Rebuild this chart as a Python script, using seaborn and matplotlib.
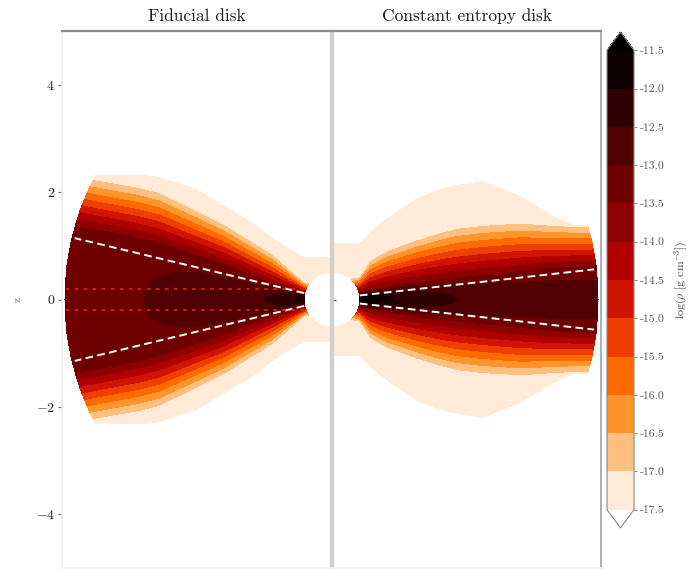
import numpy as np
import pandas as pd
import matplotlib
matplotlib.use("Agg")
import matplotlib.pyplot as plt
import seaborn as sns

# ---------------- data ----------------
panel_titles = ["Fiducial disk", "Constant entropy disk"]
cbar_levels = [-17.5, -17.0, -16.5, -16.0, -15.5, -15.0, -14.5,
               -14.0, -13.5, -13.0, -12.5, -12.0, -11.5]
ytick_values = [-4, -2, 0, 2, 4]
cbar_label = r"log($\rho$ [g cm$^{-3}$])"
inner_radius = 0.5
outer_radius = 4.95

# Fiducial disk: cylindrical-radius knots, midplane log density,
# heights of the -13.5 and -17.0 contours and of the -17.5 floor edge
fid_R    = [0.0, 0.5, 0.8, 1.1, 1.5, 2.0, 2.5, 3.2, 3.6, 4.45, 5.0]
fid_mid  = [-11.8, -11.9, -12.1, -12.45, -12.6, -12.7, -12.7, -12.9, -13.05, -13.2, -13.25]
fid_z135 = [0.05, 0.12, 0.2, 0.3, 0.45, 0.66, 0.82, 1.05, 1.15, 1.32, 1.38]
fid_z17  = [0.2, 0.3, 0.56, 0.82, 1.07, 1.38, 1.63, 1.97, 2.07, 2.22, 2.4]
fid_zh   = [0.78, 0.78, 0.95, 1.15, 1.45, 1.75, 2.05, 2.28, 2.32, 2.32, 2.45]
fid_line_slope = 0.24        # white dashed cone
fid_red_z = 0.2              # red dotted midplane markers

# Constant entropy disk
ce_R    = [0.0, 0.5, 0.7, 1.0, 1.3, 1.6, 2.0, 2.3, 2.8, 3.5, 4.1, 4.5, 5.0]
ce_mid  = [-11.6, -11.65, -11.75, -11.9, -12.1, -12.25, -12.4, -12.5, -12.6, -12.7, -12.72, -12.75, -12.75]
ce_z135 = [0.08, 0.13, 0.18, 0.23, 0.28, 0.32, 0.37, 0.4, 0.45, 0.52, 0.58, 0.6, 0.62]
ce_z17  = [0.3, 0.4, 0.7, 0.88, 0.99, 1.1, 1.22, 1.3, 1.36, 1.4, 1.36, 1.34, 1.33]
ce_zh   = [1.05, 1.05, 1.25, 1.5, 1.7, 1.9, 2.05, 2.12, 2.2, 1.92, 1.55, 1.38, 1.38]
ce_line_offset = 0.02
ce_line_slope = 0.111


def density_field(Rk, mid, z135, z17, zh):
    R = np.linspace(0, 5, 601)
    Z = np.linspace(-5, 5, 1201)
    RR, ZZ = np.meshgrid(R, Z)
    m = np.interp(RR, Rk, mid)
    a = np.interp(RR, Rk, z135)
    b = np.interp(RR, Rk, z17)
    h = np.interp(RR, Rk, zh)
    za = np.abs(ZZ)
    core = m - (m + 13.5) * (za / a) ** 2
    surf = -13.5 - 3.5 * (za - a) / (b - a)
    floor = -17.0 - 0.5 * (za - b) / (h - b)
    F = np.where(za < a, core, np.where(za < b, surf, np.where(za < h, floor, -18.5)))
    rs = np.hypot(RR, ZZ)
    F = np.where((rs < inner_radius) | (rs > outer_radius), np.nan, F)
    return RR, ZZ, F


# ---------------- figure ----------------
sns.set_theme(style="white")
plt.rcParams["font.family"] = ["cmr10", "DejaVu Serif"]
plt.rcParams["mathtext.fontset"] = "cm"
plt.rcParams["axes.formatter.use_mathtext"] = True

W, H = 697, 569
fig = plt.figure(figsize=(W / 100, H / 100), dpi=100)
ax1 = fig.add_axes([62 / W, 1 - 568 / H, 269 / W, 537 / H])
ax2 = fig.add_axes([333 / W, 1 - 568 / H, 268 / W, 537 / H])
cax = fig.add_axes([607 / W, 1 - 528 / H, 27 / W, 496 / H])

cmap = plt.get_cmap("gist_heat_r")

RR, ZZ, F_fid = density_field(fid_R, fid_mid, fid_z135, fid_z17, fid_zh)
cs = ax1.contourf(-RR, ZZ, F_fid, levels=cbar_levels, cmap=cmap, extend="both")
RR, ZZ, F_ce = density_field(ce_R, ce_mid, ce_z135, ce_z17, ce_zh)
ax2.contourf(RR, ZZ, F_ce, levels=cbar_levels, cmap=cmap, extend="both")

# cone lines
r_end_fid = outer_radius / np.sqrt(1 + fid_line_slope ** 2) - 0.05
rl = np.array([inner_radius, r_end_fid])
for sgn in (1, -1):
    df = pd.DataFrame({"x": -rl, "z": sgn * fid_line_slope * rl})
    sns.lineplot(data=df, x="x", y="z", ax=ax1, color="white", lw=1.4,
                 linestyle=(0, (4, 2.2)), sort=False, estimator=None)
    dfr = pd.DataFrame({"x": [-inner_radius, -outer_radius + 0.03],
                        "z": [sgn * fid_red_z, sgn * fid_red_z]})
    sns.lineplot(data=dfr, x="x", y="z", ax=ax1, color="#e8281a", lw=1.3,
                 linestyle=(0, (2, 3)), sort=False, estimator=None, alpha=0.85)

r_end_ce = outer_radius / np.sqrt(1 + ce_line_slope ** 2) - 0.05
rl = np.array([inner_radius, r_end_ce])
for sgn in (1, -1):
    df = pd.DataFrame({"x": rl, "z": sgn * (ce_line_offset + ce_line_slope * rl)})
    sns.lineplot(data=df, x="x", y="z", ax=ax2, color="white", lw=1.4,
                 linestyle=(0, (4, 2.2)), sort=False, estimator=None)

for ax, title in zip((ax1, ax2), panel_titles):
    ax.set_ylim(-5, 5)
    ax.set_xticks([])
    ax.set_xlabel("")
    ax.set_ylabel("")
    ax.set_title(title, fontsize=12.5, color="#1a1a1a", pad=7)
    ax.set_yticks(ytick_values)
    ax.set_facecolor("white")
ax1.set_xlim(-5, 0)
ax2.set_xlim(0, 5)

ax1.tick_params(axis="y", left=True, direction="out", length=3, width=0.8,
                color="#666666", labelsize=10, labelcolor="#222222", pad=2)
ax1.set_yticklabels([f"${v}$" for v in ytick_values])
ax2.tick_params(axis="y", left=True, direction="in", length=2, width=1.0,
                color="#666666", labelleft=False)
ax1.set_ylabel("z", fontsize=8, color="#777777", labelpad=9)

# spines
ax1.spines["left"].set_color("#eeeeee")
ax1.spines["bottom"].set_color("#f2f2f2")
ax1.spines["top"].set_color("#8c8c8c")
ax1.spines["top"].set_linewidth(1.6)
ax1.spines["right"].set_color("#cfcfcf")
ax1.spines["right"].set_linewidth(1.6)
ax2.spines["left"].set_color("#cfcfcf")
ax2.spines["left"].set_linewidth(1.6)
ax2.spines["top"].set_color("#8c8c8c")
ax2.spines["top"].set_linewidth(1.6)
ax2.spines["right"].set_color("#a8a8a8")
ax2.spines["right"].set_linewidth(1.3)
ax2.spines["bottom"].set_color("#f2f2f2")

cb = fig.colorbar(cs, cax=cax, extend="both", extendfrac=0.04, ticks=cbar_levels)
cb.ax.set_yticklabels([f"{v:.1f}" for v in cbar_levels])
cb.ax.tick_params(labelsize=8.5, labelcolor="#555555", length=2, width=0.6, color="#777777", pad=2)
cb.outline.set_edgecolor("#888888")
cb.outline.set_linewidth(0.8)
cb.set_label(cbar_label, fontsize=8.5, color="#444444", labelpad=6)

fig.savefig("out.png", dpi=100)
